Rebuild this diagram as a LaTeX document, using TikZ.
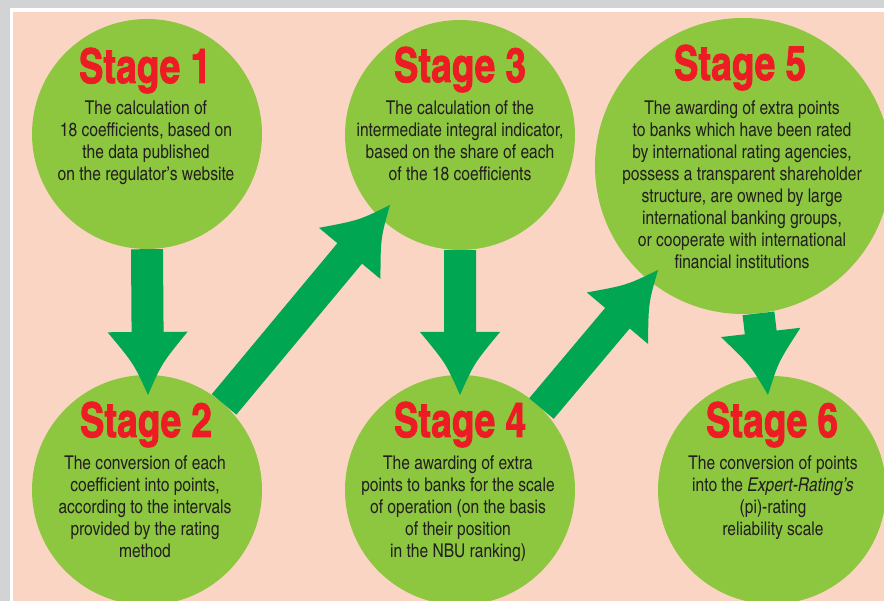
\documentclass[tikz,border=0pt]{standalone}
\usepackage{fontspec}
\usetikzlibrary{calc}
\newfontfamily\titlefont{texgyreheroscn-bold}[Extension=.otf, FakeBold=1.5, FakeStretch=0.94]
\newfontfamily\bodyfont{texgyreheroscn}[Extension=.otf, UprightFont=*-regular, ItalicFont=*-italic]
\definecolor{bggray}{HTML}{D1D3D4}
\definecolor{peach}{HTML}{FBD5C4}
\definecolor{stagegreen}{HTML}{8DC63F}
\definecolor{arrowgreen}{HTML}{00A651}
\definecolor{stagered}{HTML}{ED1C24}
\definecolor{textgray}{HTML}{231F20}

% fat arrow from a circle to a tip coordinate
\newcommand{\fatarrow}[2]{%
  \coordinate (h) at ($(#2)!63pt!(#1)$);
  \coordinate (m) at ($(h)!0.5!(#2)$);
  \fill[arrowgreen] ($(#1)!16pt!90:(#2)$) -- ($(h)!16pt!90:(#2)$) -- ($(h)!40pt!90:(#2)$)
    .. controls ($(m)!14pt!90:(#2)$) .. (#2)
    .. controls ($(m)!14pt!-90:(#2)$) .. ($(h)!40pt!-90:(#2)$)
    -- ($(h)!16pt!-90:(#2)$) -- ($(#1)!16pt!-90:(#2)$) -- cycle;
}

\begin{document}
\begin{tikzpicture}[x=1pt, y=-1pt,
    stagecircle/.style={circle, fill=stagegreen, inner sep=0pt},
    stagetitle/.style={text=stagered, font=\titlefont\fontsize{48}{48}\selectfont, anchor=base, inner sep=0pt},
    stagetext/.style={text=textgray, font=\bodyfont\fontsize{19}{22}\selectfont, align=center, anchor=north, inner sep=0pt}]
    \path[use as bounding box] (0,0) rectangle (884,601);
    \clip (0,0) rectangle (884,601);

    % Background
    \fill[bggray] (0,0) rectangle (884,601);
    \fill[white] (10,8) rectangle (884,601);
    \fill[peach] (13,12) rectangle (884,601);

    % Circles
    \node[stagecircle, minimum size=230pt] (s1) at (147,134) {};
    \node[stagecircle, minimum size=230pt] (s3) at (460,135) {};
    \node[stagecircle, minimum size=296pt] (s5) at (743,166) {};
    \node[stagecircle, minimum size=230pt] (s2) at (147,490) {};
    \node[stagecircle, minimum size=230pt] (s4) at (460,490) {};
    \node[stagecircle, minimum size=228pt] (s6) at (772,490) {};

    % Arrows
    \coordinate (tip12) at (148,395);
    \coordinate (tip23) at (390,205);
    \coordinate (tip34) at (460,395);
    \coordinate (tip45) at (658,270);
    \coordinate (tip56) at (768,395);
    \fatarrow{s1.south}{tip12}
    \fatarrow{s2.48}{tip23}
    \fatarrow{s3.south}{tip34}
    \fatarrow{s4.45}{tip45}
    \fatarrow{s5.-84}{tip56}

    % Titles
    \node[stagetitle] (t1) at (145,83) {Stage 1};
    \node[stagetitle] (t3) at (460,82) {Stage 3};
    \node[stagetitle] (t5) at (740,80) {Stage 5};
    \node[stagetitle] (t2) at (146,437) {Stage 2};
    \node[stagetitle] (t4) at (460,437) {Stage 4};
    \node[stagetitle] (t6) at (772,437) {Stage 6};

    % Descriptions
    \node[stagetext] (d1) at (146,100) {The calculation of\\18 coefficients, based on\\the data published\\on the regulator’s website};
    \node[stagetext] (d3) at (460,100) {The calculation of the\\intermediate integral indicator,\\based on the share of each\\of the 18 coefficients};
    \node[stagetext] (d5) at (742,100) {The awarding of extra points\\to banks which have been rated\\by international rating agencies,\\possess a transparent shareholder\\structure, are owned by large\\international banking groups,\\or cooperate with international\\financial institutions};
    \node[stagetext] (d2) at (145,455) {The conversion of each\\coefficient into points,\\according to the intervals\\provided by the rating\\method};
    \node[stagetext] (d4) at (458,455) {The awarding of extra\\points to banks for the scale\\of operation (on the basis\\of their position\\in the NBU ranking)};
    \node[stagetext] (d6) at (773,455) {The conversion of points\\into the \textit{Expert-Rating’s}\\(pi)-rating\\reliability scale};
\end{tikzpicture}
\end{document}
